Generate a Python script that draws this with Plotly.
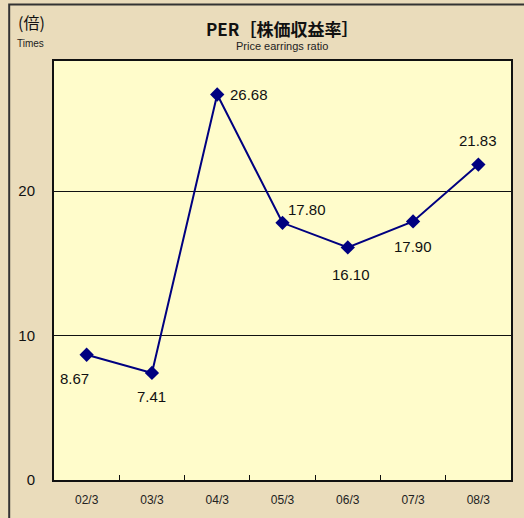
import plotly.graph_objects as go

categories = ["02/3", "03/3", "04/3", "05/3", "06/3", "07/3", "08/3"]
per_values = [8.67, 7.41, 26.68, 17.80, 16.10, 17.90, 21.83]
value_labels = ["8.67", "7.41", "26.68", "17.80", "16.10", "17.90", "21.83"]
y_ticks = [0, 10, 20]

# label offsets from each marker, in pixels (x right, y up)
label_dx = [-12, 0, 32, 24, 3, 0, 0]
label_dy = [-24, -24, 0, 13, -27, -25, 24]

W, H = 524, 518
L, R, T, B = 54, 11, 61, 34
pw, ph = W - L - R, H - T - B

def px(x):
    return (x - L) / pw

def py(y):
    return (H - B - y) / ph

fig = go.Figure()
fig.add_trace(go.Scatter(
    x=categories, y=per_values,
    mode="lines+markers",
    line=dict(color="#000080", width=2),
    marker=dict(symbol="diamond", size=11, color="#000080"),
    cliponaxis=False,
    hoverinfo="skip",
))

label_font = dict(family="Liberation Sans, Arial, sans-serif", size=15, color="#111111")
annotations = []
for c, v, t, dx, dy in zip(categories, per_values, value_labels, label_dx, label_dy):
    annotations.append(dict(x=c, y=v, xref="x", yref="y", text=t, showarrow=False,
                            xanchor="center", yanchor="middle",
                            xshift=dx, yshift=dy, font=label_font))

annotations += [
    dict(text="<b>PER［株価収益率］</b>", xref="paper", yref="paper",
         x=px(283), y=py(28), xanchor="center", yanchor="middle", showarrow=False,
         font=dict(family="Noto Sans CJK JP", size=17, color="#111111")),
    dict(text="Price earrings ratio", xref="paper", yref="paper",
         x=px(283), y=py(46), xanchor="center", yanchor="middle", showarrow=False,
         font=dict(family="Liberation Sans, Arial, sans-serif", size=11, color="#222222")),
    dict(text="(倍)", xref="paper", yref="paper",
         x=px(31), y=py(22), xanchor="center", yanchor="middle", showarrow=False,
         font=dict(family="Noto Sans CJK JP", size=16, color="#111111")),
    dict(text="Times", xref="paper", yref="paper",
         x=px(30), y=py(43), xanchor="center", yanchor="middle", showarrow=False,
         font=dict(family="Liberation Sans, Arial, sans-serif", size=10, color="#222222")),
]

fig.update_layout(
    width=W, height=H,
    margin=dict(l=L, r=R, t=T, b=B),
    paper_bgcolor="#EADCBB",
    plot_bgcolor="#FFFCCB",
    showlegend=False,
    xaxis=dict(
        type="category", range=[-0.5, 6.5],
        showline=True, linecolor="#111111", linewidth=2, mirror=True,
        ticks="inside", tickson="boundaries", ticklen=5, tickcolor="#111111",
        showgrid=False, zeroline=False,
        tickfont=dict(family="Liberation Sans, Arial, sans-serif", size=12, color="#222222"),
        ticklabelstandoff=8,
    ),
    yaxis=dict(
        range=[0, 29], tickvals=y_ticks,
        showline=True, linecolor="#111111", linewidth=2, mirror=True,
        ticks="", showgrid=True, gridcolor="#111111", gridwidth=1, zeroline=False,
        tickfont=dict(family="Liberation Sans, Arial, sans-serif", size=15, color="#111111"),
        ticklabelstandoff=14,
    ),
    shapes=[dict(type="rect", xref="paper", yref="paper",
                 x0=px(9), x1=px(540), y0=py(540), y1=py(4),
                 line=dict(color="#333333", width=2), layer="below")],
    annotations=annotations,
)

fig.write_html("out.html", config={"displayModeBar": False},
               post_script="document.body.style.margin='0';")
